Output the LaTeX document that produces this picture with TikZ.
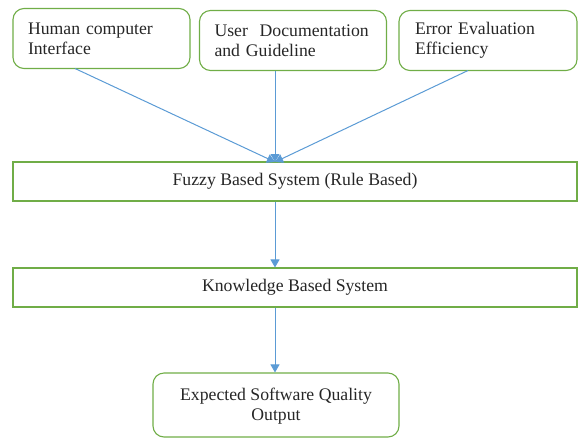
\documentclass[tikz,border=0pt]{standalone}
\usepackage{fontspec}
\setmainfont{Liberation Serif}
\newfontfamily\tnr{Liberation Serif}
\usetikzlibrary{arrows.meta}
\definecolor{bgreen}{HTML}{70AD47}
\definecolor{ablue}{HTML}{5B9BD5}
\begin{document}
\begin{tikzpicture}[x=1pt,y=-1pt,
  every node/.style={font=\tnr\fontsize{17.7}{20}\selectfont, text=black!85},
  rbox/.style={draw=bgreen, line width=1.1pt, rounded corners=11pt, inner sep=0pt},
  sbox/.style={draw=bgreen, line width=1.1pt, inner sep=0pt},
  arr/.style={draw=ablue, line width=1pt, -{Triangle[width=9pt,length=8pt]}}]
\useasboundingbox (0,0) rectangle (578,437);
\node[rbox, minimum width=177pt, minimum height=60pt, text width=147pt, align=left] (hci) at (101.5,38.5) {Human computer\\Interface};
\node[rbox, minimum width=187pt, minimum height=60pt, text width=157pt, align=left] (udg) at (293,40.5) {User\ \ Documentation\\and Guideline};
\node[rbox, minimum width=178pt, minimum height=60pt, text width=146pt, align=left] (eee) at (488,40.5) {Error Evaluation\\Efficiency};
\node[sbox, minimum width=564pt, minimum height=39pt] (fbs) at (295,181.5) {Fuzzy Based System (Rule Based)};
\node[sbox, minimum width=564pt, minimum height=39pt] (kbs) at (295,287.5) {Knowledge Based System};
\node[rbox, minimum width=246pt, minimum height=64pt] (out) at (276,405) {};
\node[align=center] (outt) at (276,406) {Expected Software Quality\\Output};
\coordinate (tgt) at (275,162);
\coordinate (s1) at (75,68.5);
\coordinate (s3) at (468,70.5);
\draw[arr] (s1) -- (tgt);
\draw[arr] (udg.south -| tgt) -- (tgt);
\draw[arr] (s3) -- (tgt);
\draw[arr] (fbs.south -| tgt) -- (kbs.north -| tgt);
\draw[arr] (kbs.south -| tgt) -- (out.north -| tgt);
\end{tikzpicture}
\end{document}
